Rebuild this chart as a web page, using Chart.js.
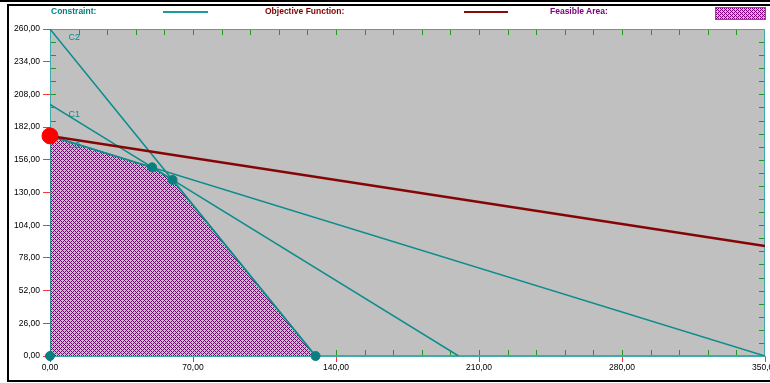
<!DOCTYPE html>
<html>
<head>
<meta charset="utf-8">
<script src="https://cdn.jsdelivr.net/npm/chart.js@4"></script>
<style>
  html, body { margin: 0; padding: 0; width: 770px; height: 383px; overflow: hidden; background: #fff; }
  #wrap { position: relative; width: 770px; height: 383px; overflow: hidden; }
  #chart { position: absolute; left: 0; top: 0; }
  .topline { position: absolute; left: 0; top: 0; width: 770px; height: 2px; background: #000; }
  .frame { position: absolute; left: 7px; top: 4px; width: 1000px; height: 374px; border-top: 2px solid #000; border-left: 2px solid #000; border-bottom: 2px solid #000; }
  .leg { position: absolute; top: 6px; font: bold 8.5px "Liberation Sans", Arial, sans-serif; white-space: nowrap; }
  .seg { position: absolute; }
  #swatch { position: absolute; left: 715px; top: 7px; }
</style>
</head>
<body>
<div id="wrap">
  <div class="topline"></div>
  <div class="frame"></div>
  <canvas id="chart" width="800" height="383"></canvas>
  <div class="leg" style="left:51px;color:#008080">Constraint:</div>
  <div class="seg" style="left:163px;top:11px;width:45px;height:2px;background:#1a9c9c"></div>
  <div class="leg" style="left:265px;color:#800000">Objective Function:</div>
  <div class="seg" style="left:464px;top:11px;width:44px;height:2px;background:#8b0a0a"></div>
  <div class="leg" style="left:550px;color:#800080">Feasible Area:</div>
  <canvas id="swatch" width="51" height="13"></canvas>
</div>
<script>
// constraints (line end points on the axes)
var c1X = [0, 200], c1Y = [200, 0];
var c2X = [0, 130], c2Y = [260, 0];
var c3X = [0, 350], c3Y = [175, 0];
var constraintNames = ['C1', 'C2', 'C3'];

// objective function through the optimum
var objX = [0, 350], objY = [175, 87.5];
var optimumX = [0], optimumY = [175];

// feasible region corners
var feasX = [0, 0, 50, 60, 130], feasY = [0, 175, 150, 140, 0];

// axis ranges
var xMax = 350, xStep = 70, xMinor = 14;
var yMax = 260, yStep = 26, yMinor = 10.4;

var TEAL = '#0b8c8c';
var BORDER = '#3faaaa';

function pts(xs, ys) { return xs.map((x, i) => ({ x: x, y: ys[i] })); }

function hatchPattern(ctx) {
    var c = document.createElement('canvas');
    c.width = 4; c.height = 4;
    var g = c.getContext('2d');
    g.fillStyle = '#c0c0c0';
    g.fillRect(0, 0, 4, 4);
    g.fillStyle = '#800080';
    [[0, 0], [1, 1], [2, 2], [3, 3], [3, 1], [1, 3]].forEach(p => g.fillRect(p[0], p[1], 1, 1));
    return ctx.createPattern(c, 'repeat');
}

var ctx = document.getElementById('chart').getContext('2d');
var hatch = hatchPattern(ctx);

// legend swatch
var sw = document.getElementById('swatch').getContext('2d');
sw.fillStyle = hatchPattern(sw);
sw.fillRect(0, 0, 51, 13);
sw.strokeStyle = '#a040a0';
sw.strokeRect(0.5, 0.5, 50, 12);

var fmt = v => v.toFixed(2).replace('.', ',');

var plotDecor = {
    id: 'plotDecor',
    beforeDraw(chart) {
        var a = chart.chartArea, c = chart.ctx;
        c.save();
        c.fillStyle = '#c0c0c0';
        c.fillRect(a.left, a.top, a.right - a.left, a.bottom - a.top);
        c.restore();
    },
    beforeDatasetsDraw(chart) {
        var a = chart.chartArea, c = chart.ctx;
        var xs = chart.scales.x, ys = chart.scales.y;
        c.save();
        // minor ticks on all four sides
        c.strokeStyle = '#1f9a1f';
        c.lineWidth = 1;
        c.beginPath();
        for (var v = xMinor; v < xMax; v += xMinor) {
            var px = Math.round(xs.getPixelForValue(v)) + 0.5;
            c.moveTo(px, a.bottom); c.lineTo(px, a.bottom - 6);
            c.moveTo(px, a.top); c.lineTo(px, a.top + 6);
        }
        for (var w = yMinor; w < yMax - 0.01; w += yMinor) {
            var py = Math.round(ys.getPixelForValue(w)) + 0.5;
            c.moveTo(a.left, py); c.lineTo(a.left + 6, py);
            c.moveTo(a.right, py); c.lineTo(a.right - 6, py);
        }
        c.stroke();
        // plot frame
        c.strokeStyle = BORDER;
        c.strokeRect(a.left + 0.5, a.top + 0.5, a.right - a.left - 1, a.bottom - a.top - 1);
        c.restore();
    },
    afterDatasetsDraw(chart) {
        var c = chart.ctx, xs = chart.scales.x, ys = chart.scales.y;
        c.save();
        // constraint names
        c.fillStyle = TEAL;
        c.font = '9px "Liberation Sans", Arial, sans-serif';
        c.textBaseline = 'middle';
        var starts = [c1Y[0], c2Y[0], c3Y[0]];
        var offs = [10, 9, 10];
        constraintNames.forEach((n, i) => {
            c.fillText(n, xs.getPixelForValue(9), ys.getPixelForValue(starts[i]) + offs[i]);
        });
        c.restore();
    }
};

function lineSet(label, data, color, width, order) {
    return {
        type: 'line', label: label, data: data, borderColor: color, borderWidth: width,
        pointRadius: 0, fill: false, order: order, tension: 0
    };
}

new Chart(ctx, {
    type: 'scatter',
    data: {
        datasets: [
            {
                type: 'scatter', label: 'Optimum', data: pts(optimumX, optimumY), clip: false,
                pointRadius: 8, backgroundColor: '#ff0000', borderColor: '#ff0000', order: 0
            },
            {
                type: 'scatter', label: 'Vertices', data: pts(feasX, feasY), clip: false,
                pointRadius: 4.5, backgroundColor: '#0a7f7f', borderColor: '#0a7f7f', order: 1
            },
            lineSet('Objective Function', pts(objX, objY), '#860404', 2.5, 2),
            lineSet('C1', pts(c1X, c1Y), TEAL, 1.5, 3),
            lineSet('C2', pts(c2X, c2Y), TEAL, 1.5, 3),
            lineSet('C3', pts(c3X, c3Y), TEAL, 1.5, 3),
            {
                type: 'line', label: 'Feasible Area', data: pts(feasX, feasY),
                borderColor: TEAL, borderWidth: 1.5, backgroundColor: hatch,
                fill: 'origin', pointRadius: 0, order: 4, tension: 0
            }
        ]
    },
    options: {
        responsive: false,
        animation: false,
        layout: { padding: { left: 0, right: 35, top: 29, bottom: 0 } },
        plugins: { legend: { display: false }, tooltip: { enabled: false } },
        scales: {
            x: {
                type: 'linear', min: 0, max: xMax,
                afterFit: s => { s.height = 27; },
                ticks: {
                    stepSize: xStep, maxRotation: 0, autoSkip: false, padding: 1,
                    color: '#000', font: { family: 'Liberation Sans', size: 8.5 },
                    callback: fmt
                },
                grid: { drawOnChartArea: false, tickLength: 6, color: '#ff3030' },
                border: { color: BORDER }
            },
            y: {
                type: 'linear', min: 0, max: yMax,
                afterFit: s => { s.width = 50; },
                ticks: {
                    stepSize: yStep, padding: 3, autoSkip: false,
                    color: '#000', font: { family: 'Liberation Sans', size: 8.5 },
                    callback: fmt
                },
                grid: { drawOnChartArea: false, tickLength: 7, color: '#ff3030' },
                border: { color: BORDER }
            }
        }
    },
    plugins: [plotDecor]
});
</script>
</body>
</html>
